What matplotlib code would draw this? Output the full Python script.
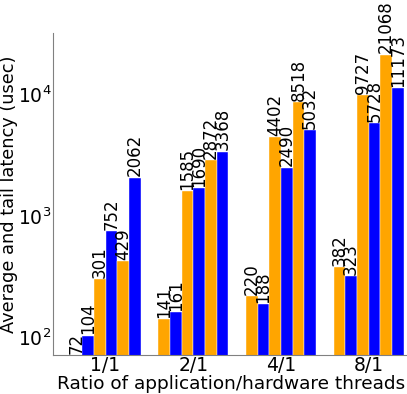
import numpy as np
import matplotlib
matplotlib.use("Agg")
from matplotlib import pyplot as plt

groups = ["1/1", "2/1", "4/1", "8/1"]
# six bars per group: orange, blue, orange, blue, orange, blue
series = [
    [72, 141, 220, 382],
    [104, 161, 188, 323],
    [301, 1585, 4402, 9727],
    [752, 1690, 2490, 5728],
    [429, 2872, 8518, 21068],
    [2062, 3368, 5032, 11173],
]
colors = ["orange", "blue", "orange", "blue", "orange", "blue"]

fig = plt.figure(figsize=(4.07, 3.94), dpi=100)
ax = fig.add_axes([0.13, 0.099, 0.875, 0.817])

x = np.arange(len(groups))
width = 0.8 / len(series)
for i, (vals, c) in enumerate(zip(series, colors)):
    pos = x - 0.4 + width * (i + 0.5)
    ax.bar(pos, vals, width, color=c, edgecolor="white", linewidth=0.3)
    for p, v in zip(pos, vals):
        ax.text(p, v * 1.02, str(v), rotation=90, ha="center", va="bottom", fontsize=12)

ax.set_yscale("log")
ax.set_ylim(72, 31600)
ax.set_xlim(-0.6, 3.46)
ax.set_xticks(x)
ax.set_xticklabels(groups)
ax.tick_params(axis="both", which="both", length=0, labelsize=13.5, pad=1)
ax.set_xlabel("Ratio of application/hardware threads", fontsize=13.3, labelpad=0)
ax.set_ylabel("Average and tail latency (usec)", fontsize=12.8)
ax.yaxis.set_label_coords(-0.097, 0.5)
for s in ["top", "right"]:
    ax.spines[s].set_visible(False)
for s in ["left", "bottom"]:
    ax.spines[s].set_color("gray")

fig.savefig("out.png", dpi=100)
